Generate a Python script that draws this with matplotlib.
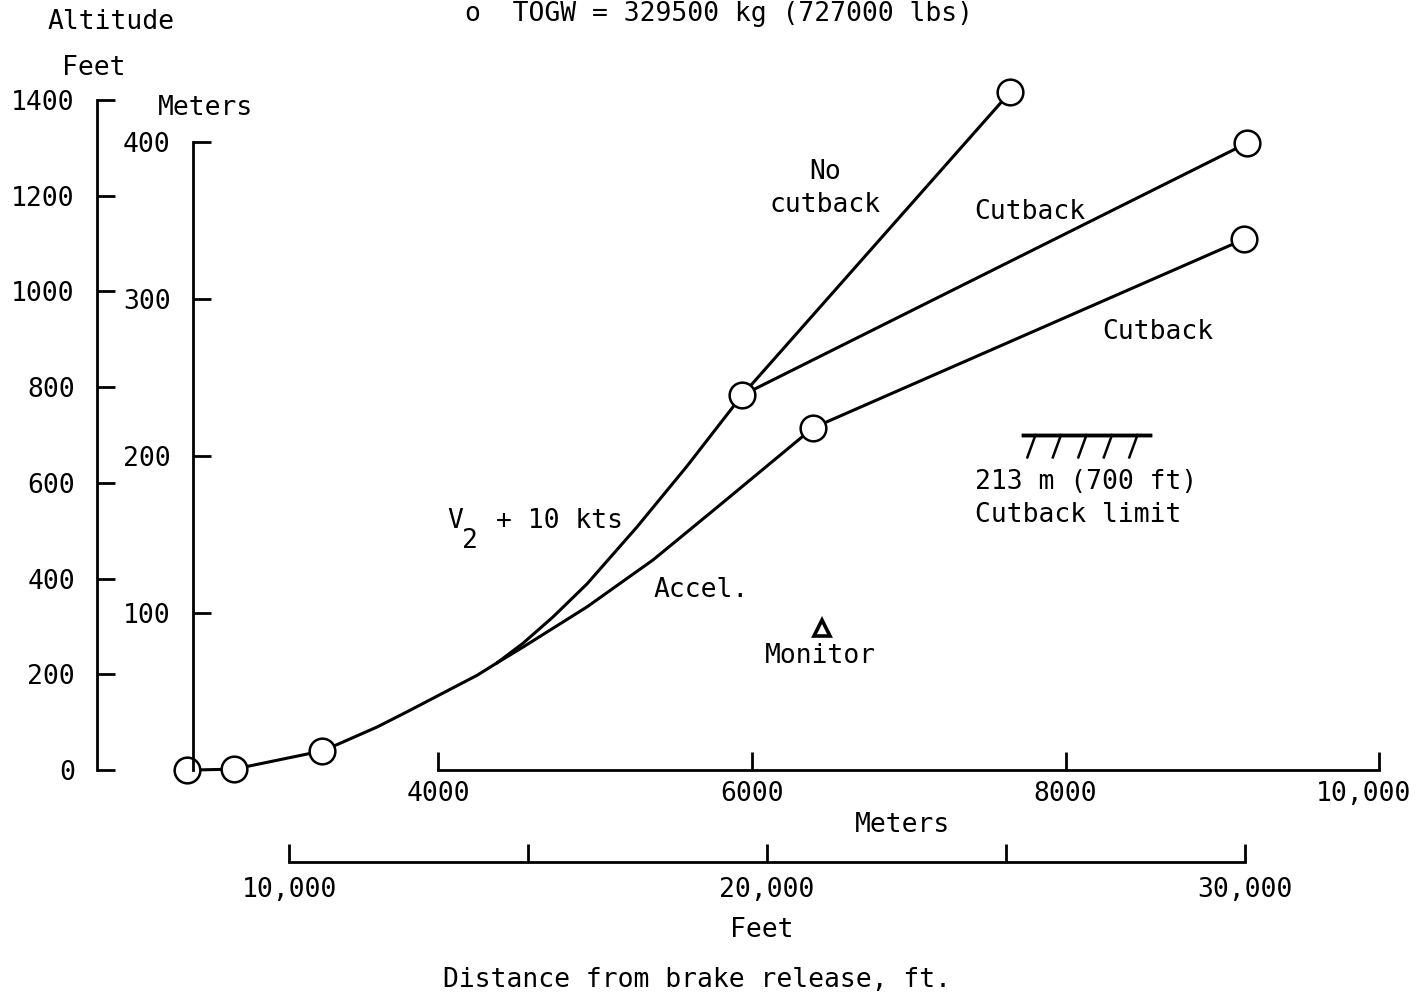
import matplotlib
matplotlib.use("Agg")
import matplotlib.pyplot as plt
from matplotlib import patheffects
from matplotlib.transforms import ScaledTranslation

# Distance in feet from brake release, altitude in feet
common_x = [7866, 8849, 10690, 11067, 11841, 12531, 13221, 13933, 14351]
common_y = [0, 2, 40, 56, 90, 125, 161, 198, 224]
v2_x = [14351, 14895, 15523, 16234, 17280, 18326, 19477]
v2_y = [224, 265, 320, 389, 508, 635, 783]
accel_x = [14351, 14895, 16234, 17614, 19016, 20962]
accel_y = [224, 257, 341, 439, 554, 715]
nocut_x, nocut_y = [19477, 25083], [783, 1416]
cut_hi_x, cut_hi_y = [19477, 30041], [783, 1310]
cut_lo_x, cut_lo_y = [20962, 29978], [715, 1109]
node_x = [7866, 8849, 10690, 19477, 20962, 25083, 30041, 29978]
node_y = [0, 2, 40, 783, 715, 1416, 1310, 1109]
monitor_x, monitor_y = [21150], [297]
limit_x, limit_y = [25355, 28011], [700, 700]

alt_ft_ticks = [0, 200, 400, 600, 800, 1000, 1200, 1400]
alt_m_ticks = [100, 200, 300, 400]
dist_ft_ticks = [10000, 15000, 20000, 25000, 30000]
dist_ft_labels = ["10,000", "", "20,000", "", "30,000"]
dist_m_ticks = [4000, 6000, 8000, 10000]
dist_m_labels = ["4000", "6000", "8000", "10,000"]

FT2M = 0.3048
W, H = 1422, 997
FONT = "DejaVu Sans Mono"
FS = 19
plt.rcParams["font.family"] = FONT

fig = plt.figure(figsize=(W / 100, H / 100), dpi=100)
xlim = (3954, 33703)
ylim = (-474, 1609)

ax = fig.add_axes([0, 0, 1, 1])
ax.patch.set_visible(False)
ax.set_xlim(*xlim)
ax.set_ylim(*ylim)

ax2 = fig.add_axes([0, 0, 1, 1])
ax2.patch.set_visible(False)
ax2.set_xlim(xlim[0] * FT2M, xlim[1] * FT2M)
ax2.set_ylim(ylim[0] * FT2M, ylim[1] * FT2M)

for a in (ax, ax2):
    a.spines["top"].set_visible(False)
    a.spines["right"].set_visible(False)
    for s in ("left", "bottom"):
        a.spines[s].set_linewidth(2)
    a.tick_params(direction="in", length=13, width=2, labelsize=FS, colors="black")

# feet axes
ax.spines["left"].set_position(("data", 5983))
ax.spines["left"].set_bounds(0, 1400)
ax.set_yticks(alt_ft_ticks)
ax.tick_params(axis="y", pad=16)
ax.spines["bottom"].set_position(("data", -192))
ax.spines["bottom"].set_bounds(10000, 30000)
ax.set_xticks(dist_ft_ticks)
ax.set_xticklabels(dist_ft_labels)
ax.tick_params(axis="x", pad=11)

# meter axes
ax2.spines["left"].set_position(("data", 2435))
ax2.spines["left"].set_bounds(0, 400)
ax2.set_yticks(alt_m_ticks)
ax2.tick_params(axis="y", pad=16)
ax2.spines["bottom"].set_position(("data", 0))
ax2.spines["bottom"].set_bounds(4000, 10000)
ax2.set_xticks(dist_m_ticks)
ax2.set_xticklabels(dist_m_labels)
ax2.tick_params(axis="x", pad=8)

# nudge the last label left so it stays on the page
last = ax2.get_xticklabels()[-1]
last.set_transform(last.get_transform() +
                   ScaledTranslation(-16 / 100, 0, fig.dpi_scale_trans))

lw = 2.2
line_kw = dict(color="black", lw=lw, solid_capstyle="round",
               solid_joinstyle="round", zorder=3)
ax.plot(common_x, common_y, **line_kw)
ax.plot(v2_x, v2_y, **line_kw)
ax.plot(accel_x, accel_y, **line_kw)
ax.plot(nocut_x, nocut_y, **line_kw)
ax.plot(cut_hi_x, cut_hi_y, **line_kw)
ax.plot(cut_lo_x, cut_lo_y, **line_kw)
ax.plot(node_x, node_y, "o", ms=18.5, mfc="white", mec="black", mew=1.8,
        ls="none", zorder=4)
ax.plot(monitor_x, monitor_y, "^", ms=12, mfc="white", mec="black", mew=2.6,
        ls="none", zorder=4)
ax.plot(limit_x, limit_y, color="black", lw=2.5,
        path_effects=[patheffects.withTickedStroke(angle=-110, spacing=18,
                                                   length=0.95, linewidth=1.8),
                      patheffects.Normal()])


def px(x, y):
    return x / W, 1 - y / H


def label(x, y, s, ha="left", va="center", size=FS):
    fig.text(*px(x, y), s, ha=ha, va=va, fontsize=size, family=FONT)


label(48, 22, "Altitude")
label(62, 68, "Feet")
label(158, 108, "Meters")
label(465, 14, "o  TOGW = 329500 kg (727000 lbs)")
label(825, 172, "No", ha="center")
label(825, 205, "cutback", ha="center")
label(974, 212, "Cutback")
label(1102, 332, "Cutback")
label(975, 482, "213 m (700 ft)")
label(975, 515, "Cutback limit")
label(447, 521, "V")
label(462, 541, "2")
label(496, 521, "+ 10 kts")
label(654, 590, "Accel.")
label(765, 656, "Monitor")
label(902, 825, "Meters", ha="center")
label(762, 930, "Feet", ha="center")
label(697, 980, "Distance from brake release, ft.", ha="center")

fig.savefig("out.png", dpi=100)
